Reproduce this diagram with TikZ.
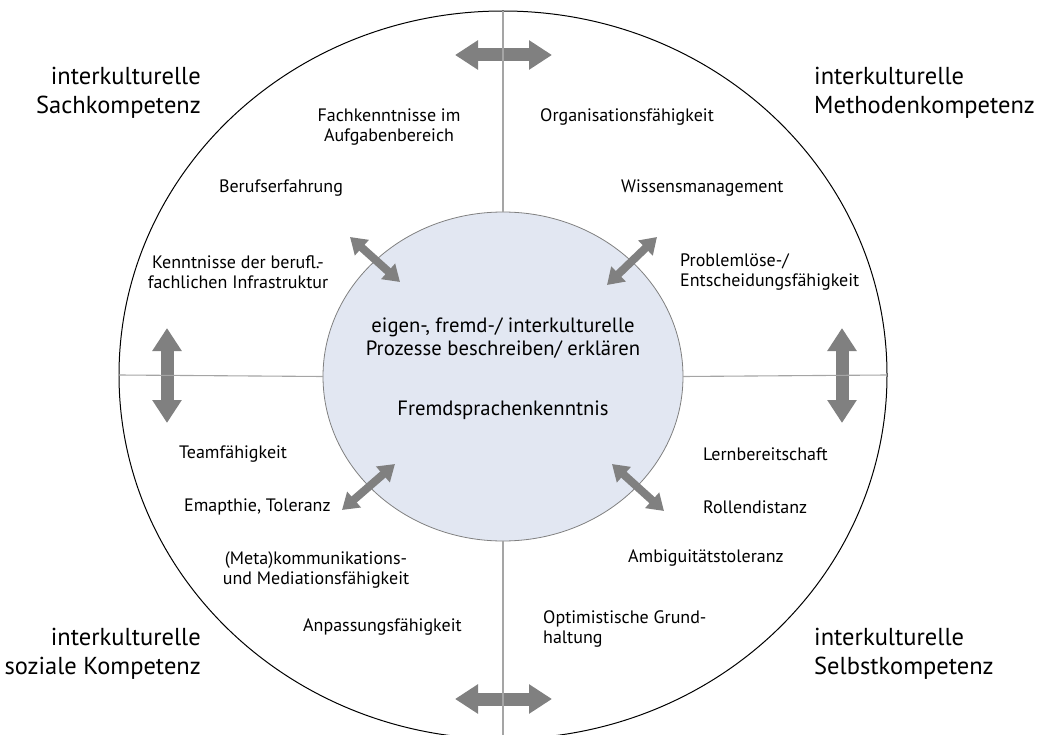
\documentclass[tikz,border=0pt]{standalone}
\usepackage{fontspec}
\setmainfont{PT Sans}
\usetikzlibrary{arrows.meta,shapes.geometric}
\definecolor{arrowgray}{RGB}{128,128,128}
\definecolor{axisgray}{RGB}{165,165,165}
\definecolor{coreblue}{RGB}{226,231,242}
\tikzset{
    area title/.style = {
        font=\fontsize{24.5}{29}\selectfont,
        inner sep=1pt,
        },
    item/.style = {
        font=\fontsize{18}{20}\selectfont,
        inner sep=1pt,
        },
    core text/.style = {
        font=\fontsize{20.7}{23}\selectfont,
        align=center,
        inner sep=1pt,
        },
    axis/.style = {
        draw=axisgray,
        line width=1.1pt,
        },
    big link/.style = {
        draw=arrowgray,
        line width=13pt,
        {Triangle[width=28pt,length=23pt]}-{Triangle[width=28pt,length=23pt]},
        },
    small link/.style = {
        draw=arrowgray,
        line width=8pt,
        {Triangle[width=20pt,length=16pt]}-{Triangle[width=20pt,length=16pt]},
        },
}
\begin{document}
\begin{tikzpicture}[x=1pt,y=-1pt]
            \useasboundingbox (0,0) rectangle (1041,735);
            \node[draw, ellipse, line width=1pt, minimum width=768pt, minimum height=728pt, inner sep=0pt, outer sep=0pt] (outer) at (503,375) {};
            \node[draw=gray, ellipse, fill=coreblue, line width=0.8pt, minimum width=360pt, minimum height=329pt, inner sep=0pt, outer sep=0pt] (core) at (503,376.5) {};

            % arrows between the areas
            \coordinate (t1) at (455,55);
            \coordinate (t2) at (552,55);
            \coordinate (b1) at (455,699);
            \coordinate (b2) at (552,699);
            \coordinate (l1) at (167,328);
            \coordinate (l2) at (167,423);
            \coordinate (r1) at (842,328);
            \coordinate (r2) at (842,423);
            \path (t1) edge[big link] (t2);
            \path (b1) edge[big link] (b2);
            \path (l1) edge[big link] (l2);
            \path (r1) edge[big link] (r2);

            % arrows to the core
            \coordinate (nw1) at (350,237);
            \coordinate (nw2) at (400,282);
            \coordinate (ne1) at (607,285);
            \coordinate (ne2) at (657,237);
            \coordinate (sw1) at (342,510);
            \coordinate (sw2) at (395,464);
            \coordinate (se1) at (612,464);
            \coordinate (se2) at (664,511);
            \path (nw1) edge[small link] (nw2);
            \path (ne1) edge[small link] (ne2);
            \path (sw1) edge[small link] (sw2);
            \path (se1) edge[small link] (se2);

            \path (outer.north) edge[axis] (core.north);
            \path (core.south) edge[axis] (outer.south);
            \path (outer.west) edge[axis] (core.west);
            \path (core.east) edge[axis] (outer.east);

            \node[area title, anchor=east, align=right] (sach) at (202,92.5) {interkulturelle\\Sachkompetenz};
            \node[area title, anchor=west, align=left] (methode) at (813,92.5) {interkulturelle\\Methodenkompetenz};
            \node[area title, anchor=east, align=right] (sozial) at (202,654) {interkulturelle\\soziale Kompetenz};
            \node[area title, anchor=west, align=left] (selbst) at (813,654) {interkulturelle\\Selbstkompetenz};

            \node[core text] (prozess) at (503,338.5) {eigen-, fremd-/ interkulturelle\\Prozesse beschreiben/ erklären};
            \node[core text] (sprache) at (503,410) {Fremdsprachenkenntnis};

            \node[item, align=center] (fach) at (389,127) {Fachkenntnisse im\\ Aufgabenbereich};
            \node[item] (beruf) at (281,188) {Berufserfahrung};
            \node[item, align=center] (infra) at (238,272) {Kenntnisse der berufl.-\\fachlichen Infrastruktur};

            \node[item, anchor=west] (orga) at (539,117) {Organisationsfähigkeit};
            \node[item, anchor=west] (wissen) at (620,188) {Wissensmanagement};
            \node[item, anchor=west, align=left] (problem) at (679,272) {Problemlöse-/\\Entscheidungsfähigkeit};

            \node[item, anchor=west] (team) at (178,454) {Teamfähigkeit};
            \node[item, anchor=west] (empathie) at (183,507) {Emapthie, Toleranz};
            \node[item, align=center] (meta) at (316,569.5) {(Meta)kommunikations-\\und Mediationsfähigkeit};
            \node[item, anchor=west] (anpassung) at (302,627) {Anpassungsfähigkeit};

            \node[item, anchor=west] (lernen) at (702,454) {Lernbereitschaft};
            \node[item, anchor=west] (rolle) at (702,507) {Rollendistanz};
            \node[item, anchor=west] (ambig) at (627,558) {Ambiguitätstoleranz};
            \node[item, anchor=west, align=left] (optimist) at (542,628.5) {Optimistische Grund-\\haltung};
        \end{tikzpicture}
\end{document}
